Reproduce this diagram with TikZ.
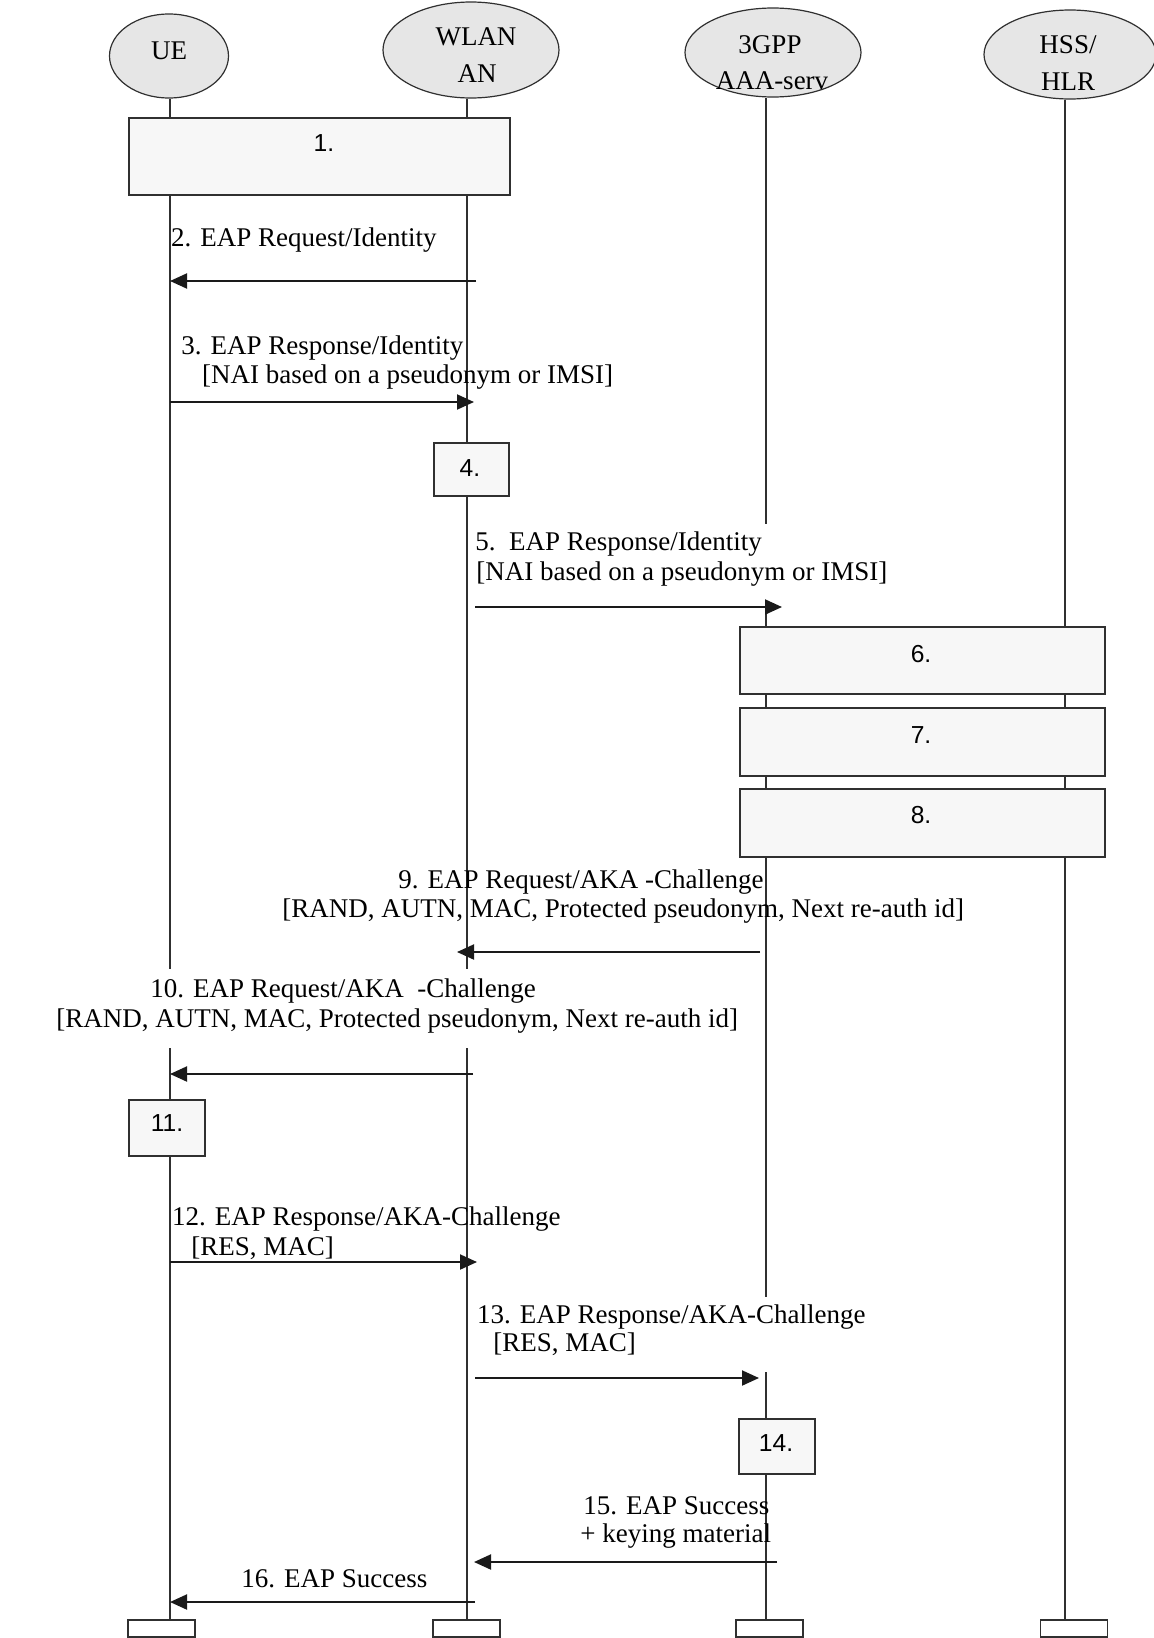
\documentclass[tikz,border=0pt]{standalone}
\usepackage{fontspec}
\setmainfont{Liberation Serif}
\newfontfamily\arialf{Liberation Sans}
\usetikzlibrary{arrows.meta,shapes.geometric}
\definecolor{ellfill}{HTML}{E6E6E6}
\definecolor{boxfill}{HTML}{F7F7F7}
\definecolor{linec}{HTML}{303030}
\definecolor{arrc}{HTML}{1A1A1A}
\begin{document}
\begin{tikzpicture}[x=0.5pt,y=-0.5pt,
  actor/.style={ellipse, draw=linec, line width=0.6pt, fill=ellfill, inner sep=0pt},
  life/.style={line width=0.65pt, draw=linec},
  msg/.style={line width=1pt, draw=arrc, -{Triangle[length=8.5pt,width=7.5pt]}},
  stepbox/.style={draw=linec, line width=0.75pt, fill=boxfill, inner sep=0pt},
  endbox/.style={draw=linec, line width=0.75pt, fill=white, minimum width=33.5pt, minimum height=8.5pt, inner sep=0pt},
  txt/.style={font=\fontsize{13.5}{15}\selectfont, inner sep=0pt, anchor=base west},
  ctxt/.style={font=\fontsize{13.5}{15}\selectfont, inner sep=0pt, anchor=base},
  num/.style={font=\arialf\fontsize{12.3}{14}\selectfont, inner sep=0pt, anchor=center}]
\fill[white] (0,0) rectangle (1153,1638);
\useasboundingbox (0,0) rectangle (1153,1638);

% lifeline x positions
\coordinate (xue) at (170,0);
\coordinate (xwl) at (467,0);
\coordinate (xaaa) at (766,0);
\coordinate (xhss) at (1065,0);

% actors
\node[actor, minimum width=59.5pt, minimum height=42pt] (ue) at (169,56) {};
\node[actor, minimum width=88pt, minimum height=48pt] (wl) at (471,50) {};
\node[actor, minimum width=88pt, minimum height=44.5pt] (aaa) at (773,52.5) {};
\node[actor, minimum width=86pt, minimum height=44.5pt] (hss) at (1070,54.5) {};
\node[ctxt] (uet) at (169,59) {UE};
\node[ctxt] (wlt1) at (476,46) {WLAN};
\node[ctxt] (wlt2) at (477,82) {AN};
\node[ctxt] (aaat1) at (770,53) {3GPP};
\node[ctxt] (aaat2) at (772,89) {AAA-serv};
\node[ctxt] (hsst1) at (1068,54) {HSS/};
\node[ctxt] (hsst2) at (1068,90) {HLR};

% end boxes
\node[endbox] (bue) at (161.5,1628.5) {};
\node[endbox] (bwl) at (466.5,1628.5) {};
\node[endbox] (baaa) at (769.5,1628.5) {};
\node[endbox] (bhss) at (1074,1628.5) {};

% lifeline gap coordinates
\coordinate (ueg1) at (170,969);
\coordinate (ueg2) at (170,1048);
\coordinate (wlg1) at (467,969);
\coordinate (wlg2) at (467,1048);
\coordinate (aag1) at (766,524);
\coordinate (aag2) at (766,607);
\coordinate (aag3) at (766,1297);
\coordinate (aag4) at (766,1372);

% lifelines
\draw[life] (ue.south -| xue) -- (ueg1);
\draw[life] (ueg2) -- (bue.north -| xue);
\draw[life] (wl.south -| xwl) -- (wlg1);
\draw[life] (wlg2) -- (bwl.north -| xwl);
\draw[life] (aaa.south -| xaaa) -- (aag1);
\draw[life] (aag2) -- (aag3);
\draw[life] (aag4) -- (baaa.north -| xaaa);
\draw[life] (hss.south -| xhss) -- (bhss.north -| xhss);

% step boxes
\node[stepbox, minimum width=190.5pt, minimum height=38.5pt] (s1) at (319.5,156.5) {};
\node[num] (n1) at (324,143) {1.};
\node[stepbox, minimum width=37.5pt, minimum height=26.5pt] (s4) at (471.5,469.5) {};
\node[num] (n4) at (470,468) {4.};
\node[stepbox, minimum width=182.5pt, minimum height=33.5pt] (s6) at (922.5,660.5) {};
\node[num] (n6) at (921,654) {6.};
\node[stepbox, minimum width=182.5pt, minimum height=34pt] (s7) at (922.5,742) {};
\node[num] (n7) at (921,735) {7.};
\node[stepbox, minimum width=182.5pt, minimum height=34pt] (s8) at (922.5,823) {};
\node[num] (n8) at (921,815) {8.};
\node[stepbox, minimum width=38pt, minimum height=28pt] (s11) at (167,1128) {};
\node[num] (n11) at (167,1123) {11.};
\node[stepbox, minimum width=38pt, minimum height=27.5pt] (s14) at (777,1446.5) {};
\node[num] (n14) at (776,1443) {14.};

% message labels
\node[txt] (t2) at (170.7,246.7) {2. EAP Request/Identity};
\node[txt] (t3a) at (181,354) {3. EAP Response/Identity};
\node[txt] (t3b) at (201.7,383) {[NAI based on a pseudonym or IMSI]};
\node[txt] (t5a) at (475,550) {5.\ \ EAP Response/Identity};
\node[txt] (t5b) at (476,580) {[NAI based on a pseudonym or IMSI]};
\node[txt] (t9a) at (398,888) {9. EAP Request/AKA -Challenge};
\node[txt] (t9b) at (282,917) {[RAND, AUTN, MAC, Protected pseudonym, Next re-auth id]};
\node[txt] (t10a) at (150,997) {10. EAP Request/AKA\ \ -Challenge};
\node[txt] (t10b) at (56,1027) {[RAND, AUTN, MAC, Protected pseudonym, Next re-auth id]};
\node[txt] (t12a) at (171.7,1225) {12. EAP Response/AKA-Challenge};
\node[txt] (t12b) at (191,1255) {[RES, MAC]};
\node[txt] (t13a) at (476.7,1323) {13. EAP Response/AKA-Challenge};
\node[txt] (t13b) at (493,1351) {[RES, MAC]};
\node[txt] (t15a) at (583,1514) {15. EAP Success};
\node[txt] (t15b) at (580,1542) {+ keying material};
\node[txt] (t16) at (241,1587) {16. EAP Success};

% message end points
\coordinate (m2s) at (476,281);  \coordinate (m2e) at (170,281);
\coordinate (m3s) at (170,402);  \coordinate (m3e) at (474,402);
\coordinate (m5s) at (475,607);  \coordinate (m5e) at (782,607);
\coordinate (m9s) at (760,952);  \coordinate (m9e) at (457,952);
\coordinate (m10s) at (473,1074); \coordinate (m10e) at (170,1074);
\coordinate (m12s) at (170,1262); \coordinate (m12e) at (477,1262);
\coordinate (m13s) at (475,1378); \coordinate (m13e) at (759,1378);
\coordinate (m15s) at (777,1562); \coordinate (m15e) at (474,1562);
\coordinate (m16s) at (475,1602); \coordinate (m16e) at (170,1602);

% messages
\draw[msg] (m2s) -- (m2e);
\draw[msg] (m3s) -- (m3e);
\draw[msg] (m5s) -- (m5e);
\draw[msg] (m9s) -- (m9e);
\draw[msg] (m10s) -- (m10e);
\draw[msg] (m12s) -- (m12e);
\draw[msg] (m13s) -- (m13e);
\draw[msg] (m15s) -- (m15e);
\draw[msg] (m16s) -- (m16e);
\end{tikzpicture}
\end{document}
